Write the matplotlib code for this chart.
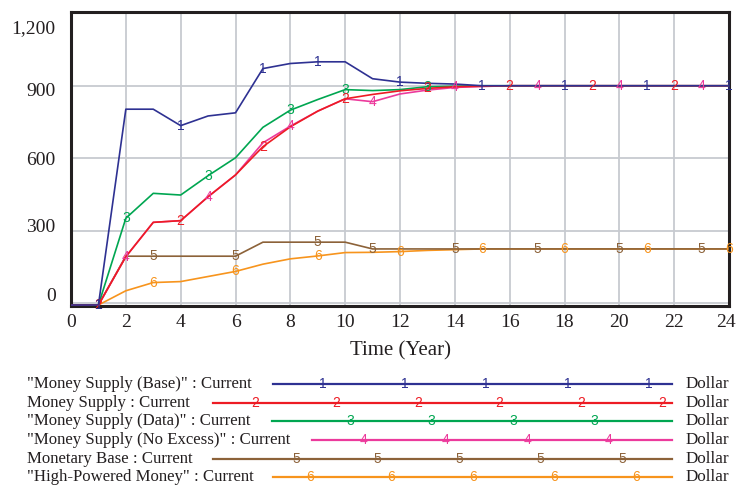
import numpy as np
import matplotlib
matplotlib.use('Agg')
import matplotlib.pyplot as plt
from matplotlib.transforms import ScaledTranslation

# ==========================================
# Data
# ==========================================
years = np.arange(0, 25)

base = [-7, -7, 803, 803, 735, 775, 788, 971, 992, 999, 999, 929, 915, 910, 907,
        900, 900, 900, 900, 900, 900, 900, 900, 900, 900]
money_supply = [-7, -7, 193, 335, 342, 441, 531, 648, 730, 795, 846, 864, 879, 889, 896,
                898, 900, 900, 900, 900, 900, 900, 900, 900, 900]
data_supply = [-7, -7, 352, 455, 448, 528, 602, 728, 799, 843, 884, 880, 884, 896, 898,
               900, 900, 900, 900, 900, 900, 900, 900, 900, 900]
no_excess = [-7, -7, 193, 335, 342, 441, 531, 664, 733, 795, 846, 834, 866, 882, 893,
             897, 900, 900, 900, 900, 900, 900, 900, 900, 900]
monetary_base = [-7, -7, 195, 195, 195, 195, 195, 253, 253, 253, 253, 225, 225, 225, 225,
                 225, 225, 225, 225, 225, 225, 225, 225, 225, 225]
high_powered = [-7, -7, 52, 86, 90, 111, 132, 162, 184, 196, 210, 211, 214, 219, 222,
                225, 225, 225, 225, 225, 225, 225, 225, 225, 225]

series_names = ['"Money Supply (Base)" : Current',
                'Money Supply : Current',
                '"Money Supply (Data)" : Current',
                '"Money Supply (No Excess)" : Current',
                'Monetary Base : Current',
                '"High-Powered Money" : Current']
series_values = [base, money_supply, data_supply, no_excess, monetary_base, high_powered]
series_units = ['Dollar'] * 6

# years where the number markers sit on each line
marker_years = [[1, 4, 7, 9, 12, 15, 18, 21, 24],
                [1, 4, 7, 10, 13, 16, 19, 22],
                [2, 5, 8, 10, 13],
                [2, 5, 8, 11, 14, 17, 20, 23],
                [3, 6, 9, 11, 14, 17, 20, 23],
                [3, 6, 9, 12, 15, 18, 21, 24]]

y_ticks = [0, 300, 600, 900, 1200]
y_tick_labels = ['0', '300', '600', '900', '1,200']
x_ticks = list(range(0, 25, 2))

colors = ['#2e3192', '#ed1c24', '#00a651', '#ec3a9c', '#8c6239', '#f7941d']

# ==========================================
# Layout / style
# ==========================================
serif = ['Liberation Serif', 'DejaVu Serif']
sans = ['Liberation Sans', 'DejaVu Sans']

fig = plt.figure(figsize=(7.36, 4.88), dpi=100)
ax = fig.add_axes([71 / 736, 1 - 306 / 488, (729 - 71) / 736, (306 - 12) / 488])

# Vensim draws series 1 on top, so go in reverse
for i in reversed(range(6)):
    vals = np.array(series_values[i])
    ax.plot(years, vals, color=colors[i], lw=1.2, zorder=3 + (6 - i))
    for t in marker_years[i]:
        ax.text(t, vals[t], str(i + 1), color=colors[i], fontsize=10,
                family=sans, ha='center', va='center', zorder=10 + (6 - i),
                clip_on=False)

ax.set_xlim(0, 24)
ax.set_ylim(-11, 1205)
ax.set_xticks(x_ticks)
ax.set_xticklabels([str(x) for x in x_ticks], fontsize=14, family=serif, color='#231f20')
ax.set_yticks(y_ticks)
ax.set_yticklabels(y_tick_labels, fontsize=14, family=serif, color='#231f20')
ax.tick_params(length=0, pad=11)
ax.tick_params(axis='x', pad=6)

# y labels are spread evenly in Vensim, not exactly on the grid
y_shift = [6.5, 3.6, 0, -2.9, -9.4]
for lbl, dy in zip(ax.get_yticklabels(), y_shift):
    lbl.set_transform(lbl.get_transform() + ScaledTranslation(0, dy / 72, fig.dpi_scale_trans))
# last x label is pulled in a little so it stays on the canvas
xl = ax.get_xticklabels()[-1]
xl.set_transform(xl.get_transform() + ScaledTranslation(-3 / 100, 0, fig.dpi_scale_trans))

ax.grid(True, color='#c7cad0', lw=1.3)
ax.set_axisbelow(True)
for s in ax.spines.values():
    s.set_linewidth(2.2)
    s.set_color('#231f20')
ax.set_xlabel('Time (Year)', fontsize=15, family=serif, color='#231f20', labelpad=7)

# ==========================================
# Legend block underneath (pixel coordinates)
# ==========================================
lax = fig.add_axes([0, 0, 1, 1], facecolor='none')
lax.set_xlim(0, 736)
lax.set_ylim(488, 0)
lax.axis('off')

row_y = 384 + 18.65 * np.arange(6)
line_start = [273, 213, 272, 312, 213, 273]
first_marker = [323, 255, 350, 364, 296, 310]
line_end = 672
step = 81.5

for i in range(6):
    y = row_y[i]
    lax.text(27, y, series_names[i], fontsize=12.1, family=serif, color='#231f20',
             ha='left', va='center')
    lax.plot([line_start[i], line_end], [y, y], color=colors[i], lw=1.6)
    for mx in np.arange(first_marker[i], line_end, step):
        lax.text(mx, y, str(i + 1), fontsize=10, family=sans, color=colors[i],
                 ha='center', va='center')
    lax.text(686, y, series_units[i], fontsize=12.3, family=serif, color='#231f20',
             ha='left', va='center')

fig.savefig('out.png', dpi=100)
